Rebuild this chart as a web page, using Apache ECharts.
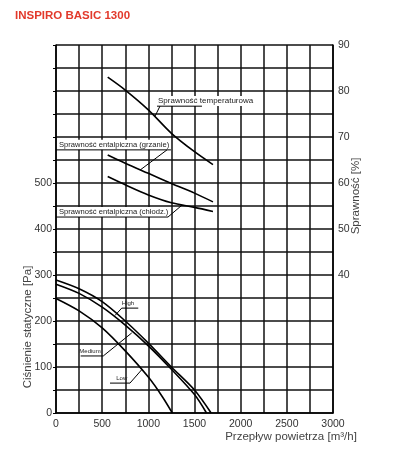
<!DOCTYPE html>
<html>
<head>
<meta charset="utf-8">
<script src="https://cdn.jsdelivr.net/npm/echarts@6/dist/echarts.min.js"></script>
<style>html,body{margin:0;padding:0;background:#fff}#c{width:398px;height:450px}</style>
</head>
<body>
<div id="c"></div>
<script>
// ---- data ----
const flowTicks = [0, 500, 1000, 1500, 2000, 2500, 3000];
const pressureTicks = [0, 100, 200, 300, 400, 500];
const efficiencyTicks = [40, 50, 60, 70, 80, 90];

// static pressure [Pa] vs air flow [m3/h]
const fanHigh = [[0,289],[250,270],[500,242],[750,200],[1000,152],[1250,100],[1500,50],[1680,0]];
const fanMedium = [[0,280],[250,260],[500,230],[750,191],[1000,146],[1250,95],[1500,40],[1630,0]];
const fanLow = [[0,249],[250,222],[500,185],[750,135],[1000,78],[1150,36],[1260,0]];

// efficiency [%] vs air flow [m3/h]
const effTemperature = [[560,83],[750,80.2],[1000,75.9],[1250,70.8],[1500,66.8],[1700,64]];
const effEnthalpyHeating = [[560,66.1],[750,64.3],[1000,62.1],[1250,59.9],[1500,57.8],[1700,55.9]];
const effEnthalpyCooling = [[560,61.4],[750,59.6],[1000,57.4],[1250,55.7],[1500,54.7],[1700,53.8]];

// annotation labels (data coords on flow / pressure axes)
const labelTexts = ['Sprawność temperaturowa','Sprawność entalpiczna (grzanie)','Sprawność entalpiczna (chłodz.)','High','Medium','Low'];
const labelAnchors = [[1094,678],[22,583],[22,437],[780,239],[368,134],[712,75]];
const underlines = [[[1094,667],[1581,667]],[[0,572],[1245,572]],[[0,426],[1213,426]],[[712,228],[891,228]],[[267,124],[512,124]],[[585,65],[801,65]]];
const leaders = [[[1126,667],[1072,645]],[[1202,572],[910,528]],[[1213,426],[1365,452]],[[712,228],[639,212]],[[512,124],[820,174]],[[801,65],[928,94]]];

const chart = echarts.init(document.getElementById('c'), null, {renderer:'canvas'});
const gridColor = '#111';
const lbl = {color:'#333', fontSize:10.5, fontFamily:'Liberation Sans'};

function line(name, data, yi) {
  return {name, type:'line', data, yAxisIndex:yi, smooth:0.3, symbol:'none',
    lineStyle:{color:'#000', width:1.6}, z:3, silent:true};
}

chart.setOption({
  animation:false,
  backgroundColor:'#fff',
  title:{text:'INSPIRO BASIC 1300', left:10, top:5,
    textStyle:{color:'#e2392b', fontSize:11.5, fontWeight:'bold', fontFamily:'Liberation Sans'}},
  grid:{left:56, right:65, top:45, bottom:37},
  xAxis:{type:'value', min:0, max:3000, interval:250,
    axisLine:{lineStyle:{color:'#000', width:1.5}},
    axisTick:{show:false},
    splitLine:{lineStyle:{color:gridColor, width:1.5}},
    axisLabel:Object.assign({}, lbl, {margin:6, formatter:v => flowTicks.includes(v) ? String(v) : ''})},
  yAxis:[
    {type:'value', min:0, max:800, interval:50,
      axisLine:{show:true, lineStyle:{color:'#000', width:1.5}},
      axisTick:{show:true, length:3, lineStyle:{color:'#000'}, interval:0},
      splitLine:{lineStyle:{color:gridColor, width:1.5}},
      axisLabel:Object.assign({}, lbl, {margin:4, formatter:v => pressureTicks.includes(v) ? String(v) : ''})},
    {type:'value', min:10, max:90, interval:10, position:'right',
      axisLine:{show:true, lineStyle:{color:'#000', width:1.5}},
      axisTick:{show:false},
      splitLine:{show:false},
      axisLabel:Object.assign({}, lbl, {margin:5, formatter:v => efficiencyTicks.includes(v) ? String(v) : ''})}
  ],
  series:[
    line('High', fanHigh, 0),
    line('Medium', fanMedium, 0),
    line('Low', fanLow, 0),
    line('temp', effTemperature, 1),
    line('grz', effEnthalpyHeating, 1),
    line('chl', effEnthalpyCooling, 1)
  ]
});

function px(p){ return chart.convertToPixel({xAxisIndex:0, yAxisIndex:0}, p); }
const g = [];
labelTexts.forEach((t, i) => {
  const a = px(labelAnchors[i]);
  const small = i >= 3;
  g.push({type:'text', x:a[0], y:a[1], z:20,
    style:{text:t, fill:'#222', fontSize: small ? 6 : (i===0 ? 8 : 7.6), fontFamily:'Liberation Sans',
      align: small ? 'center' : 'left', verticalAlign:'middle',
      backgroundColor: small ? null : '#fff', padding: small ? 0 : [1,1,1,1]}});
  const u = underlines[i].map(px);
  g.push({type:'line', z:21, shape:{x1:u[0][0], y1:u[0][1], x2:u[1][0], y2:u[1][1]}, style:{stroke:'#000', lineWidth:1}});
  const l = leaders[i].map(px);
  g.push({type:'line', z:21, shape:{x1:l[0][0], y1:l[0][1], x2:l[1][0], y2:l[1][1]}, style:{stroke:'#000', lineWidth:1}});
});
// axis names
g.push({type:'text', x:28, y:327, rotation:Math.PI/2, z:10,
  style:{text:'Ciśnienie statyczne [Pa]', fill:'#444', fontSize:11.5, fontFamily:'Liberation Sans', align:'center', verticalAlign:'middle'}});
g.push({type:'text', x:356, y:196, rotation:Math.PI/2, z:10,
  style:{text:'Sprawność [%]', fill:'#444', fontSize:11.5, fontFamily:'Liberation Sans', align:'center', verticalAlign:'middle'}});
g.push({type:'text', x:291, y:437, z:10,
  style:{text:'Przepływ powietrza [m³/h]', fill:'#444', fontSize:11.5, fontFamily:'Liberation Sans', align:'center', verticalAlign:'middle'}});
chart.setOption({graphic:g});
</script>
</body>
</html>
